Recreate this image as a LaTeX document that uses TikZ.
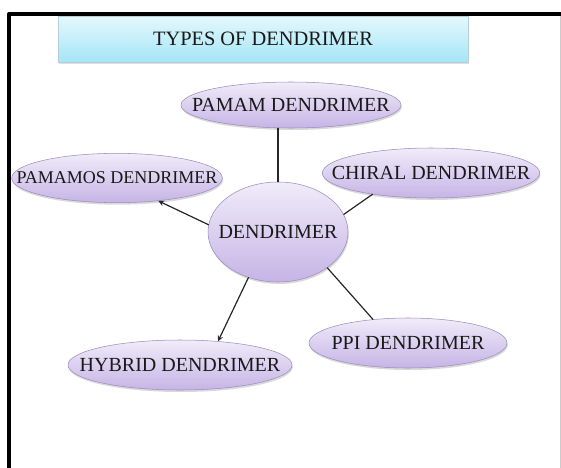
\documentclass[tikz,border=0pt]{standalone}
\usepackage{fontspec}
\setmainfont{Liberation Serif}
\usetikzlibrary{shapes.geometric,shadows}
\definecolor{lavtop}{HTML}{F0ECF9}
\definecolor{lavbot}{HTML}{C6B4E6}
\definecolor{lavrim}{HTML}{9C8DBA}
\definecolor{skytop}{HTML}{E4F8FD}
\definecolor{skybot}{HTML}{A4E6F6}
\begin{document}
\begin{tikzpicture}[x=0.75pt, y=-0.75pt, line join=round, line cap=round, >=stealth,
	blob/.style={ellipse, draw=lavrim, line width=0.4pt, inner sep=0pt,
		top color=lavtop, bottom color=lavbot, text=black!90,
		font=\fontsize{15}{18}\selectfont,
		execute at begin node={\hbox to 0pt\bgroup\hss},
		execute at end node={\hss\egroup},
		drop shadow={shadow xshift=0.6pt, shadow yshift=-1.5pt, opacity=0.3}},
	link/.style={line width=0.9pt, black!85}]
	\useasboundingbox (0,0) rectangle (561,468);
	% frame
	\draw[gray!40, line width=0.6pt] (560,14) -- (560,468);
	\draw[line width=3pt] (9,468) -- (9,14) -- (561,14);
	% title
	\node[draw=cyan!30!gray!50, line width=0.4pt, top color=skytop, bottom color=skybot,
		minimum width=307.5pt, minimum height=34.5pt, inner sep=0pt,
		font=\fontsize{15.3}{18}\selectfont, text=black!90,
		drop shadow={shadow xshift=0.6pt, shadow yshift=-1.2pt, opacity=0.25}]
		(title) at (263,39) {TYPES OF DENDRIMER};
	% types
	\node[blob, minimum width=105pt, minimum height=75pt] (core) at (278,232) {DENDRIMER};
	\node[blob, minimum width=165pt, minimum height=34.5pt] (pamam) at (291,105) {PAMAM DENDRIMER};
	\node[blob, minimum width=163pt, minimum height=37.5pt] (chiral) at (431,173) {CHIRAL DENDRIMER};
	\node[blob, minimum width=158pt, minimum height=37pt, font=\fontsize{13.5}{16}\selectfont] (pamamos) at (117,178) {PAMAMOS DENDRIMER};
	\node[blob, minimum width=168pt, minimum height=37.5pt] (hybrid) at (180,365) {HYBRID DENDRIMER};
	\node[blob, minimum width=148.5pt, minimum height=37.5pt] (ppi) at (408,343) {PPI DENDRIMER};
	% links
	\draw[link] (core.north) -- (core.north |- pamam.south);
	\draw[link] (core.15) -- (chiral.200);
	\draw[link,->] (core.174) -- (pamamos.331);
	\draw[link,->] (core.237) -- (hybrid.32);
	\draw[link] (core.324) -- (ppi.146);
\end{tikzpicture}
\end{document}
